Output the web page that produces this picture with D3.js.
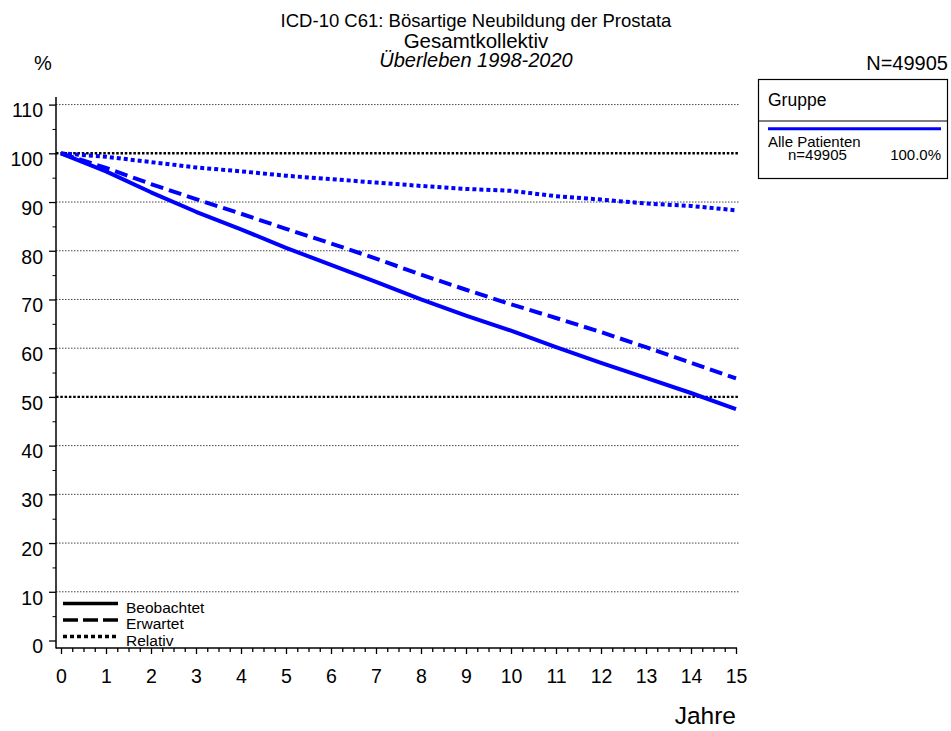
<!DOCTYPE html>
<html>
<head>
<meta charset="utf-8">
<script src="https://cdn.jsdelivr.net/npm/d3@7"></script>
<style>
  html, body { margin: 0; padding: 0; background: #fff; }
  svg { display: block; font-family: "Liberation Sans", Arial, sans-serif; }
</style>
</head>
<body>
<svg id="chart" width="951" height="731"></svg>
<script>
// ---- data ----
const years = [0,1,2,3,4,5,6,7,8,9,10,11,12,13,14,15];
const observed = [100,96.3,92.0,88.0,84.4,80.6,77.1,73.6,70.0,66.7,63.6,60.2,57.0,53.9,50.8,47.5];
const expected = [100,97.0,93.7,90.6,87.6,84.5,81.5,78.4,75.1,72.0,69.0,66.2,63.3,60.2,57.0,53.8];
const relative = [100,99.3,98.2,97.1,96.3,95.4,94.7,94.0,93.3,92.7,92.3,91.2,90.5,89.7,89.2,88.3];
const yMajorTicks = [0,10,20,30,40,50,60,70,80,90,100,110];
const xMajorTicks = [0,1,2,3,4,5,6,7,8,9,10,11,12,13,14,15];
const boldGrid = [50,100];
const titleLines = ["ICD-10 C61: Bösartige Neubildung der Prostata","Gesamtkollektiv","Überleben 1998-2020"];
const legendStyles = ["Beobachtet","Erwartet","Relativ"];
const groupName = "Alle Patienten";
const groupN = "n=49905";
const groupPct = "100.0%";
const totalN = "N=49905";

const svg = d3.select("#chart");
const blue = "#0000ff";

const x = d3.scaleLinear().domain([0,15]).range([61,736]);
const y = d3.scaleLinear().domain([0,110]).range([640.5,104.6]);

// titles
const tSizes = [18.5, 20.5, 20];
const tY = [27, 47.5, 67];
titleLines.forEach((t,i) => {
  svg.append("text").attr("x",476).attr("y",tY[i]).attr("text-anchor","middle")
    .attr("font-size",tSizes[i]).attr("font-style", i===2 ? "italic" : "normal")
    .attr("fill","#000").text(t);
});
svg.append("text").attr("x",43).attr("y",70).attr("text-anchor","middle").attr("font-size",20).text("%");
svg.append("text").attr("x",948).attr("y",70).attr("text-anchor","end").attr("font-size",20).text(totalN);

// gridlines
const gridVals = yMajorTicks.filter(v => v > 0);
svg.append("g").selectAll("line").data(gridVals).join("line")
  .attr("x1",56).attr("x2",739)
  .attr("y1",d => y(d)).attr("y2",d => y(d))
  .attr("stroke", d => boldGrid.includes(d) ? "#000" : "#444")
  .attr("stroke-width", d => boldGrid.includes(d) ? 2.4 : 1)
  .attr("stroke-dasharray", d => boldGrid.includes(d) ? "2.5,1.8" : "1.5,1.5");

// y axis
const yMinor = d3.range(5,110,10);
svg.append("g").attr("transform","translate(56,0)")
  .call(d3.axisLeft(y).tickValues(yMinor).tickSize(3.5).tickFormat(""))
  .call(g => g.select(".domain").remove());
svg.append("g").attr("transform","translate(56,0)")
  .call(d3.axisLeft(y).tickValues(yMajorTicks).tickSize(7).tickPadding(6).tickFormat(d3.format("d")))
  .call(g => g.select(".domain").remove())
  .call(g => g.selectAll("text").attr("font-size",19.5).attr("font-family","Liberation Sans, Arial, sans-serif").attr("dy","0.63em").attr("fill","#000"))
  .call(g => g.selectAll("line").attr("stroke","#000").attr("stroke-width",1.3));
svg.append("line").attr("x1",56).attr("x2",56).attr("y1",97).attr("y2",648.5).attr("stroke","#000").attr("stroke-width",1.5);

// x axis
const xMinor = d3.range(0,15.01,0.25).filter(v => Math.abs(v-Math.round(v))>1e-6);
svg.append("g").attr("transform","translate(0,648)")
  .call(d3.axisBottom(x).tickValues(xMinor).tickSize(4).tickFormat(""))
  .call(g => g.select(".domain").remove())
  .call(g => g.selectAll("line").attr("stroke","#000").attr("stroke-width",1.3));
svg.append("g").attr("transform","translate(0,648)")
  .call(d3.axisBottom(x).tickValues(xMajorTicks).tickSize(6).tickPadding(15).tickFormat(d3.format("d")))
  .call(g => g.select(".domain").remove())
  .call(g => g.selectAll("text").attr("font-size",19.5).attr("font-family","Liberation Sans, Arial, sans-serif").attr("fill","#000"))
  .call(g => g.selectAll("line").attr("stroke","#000").attr("stroke-width",1.3));
svg.append("line").attr("x1",56).attr("x2",737).attr("y1",648).attr("y2",648).attr("stroke","#000").attr("stroke-width",1.5);
svg.append("text").attr("x",736).attr("y",724).attr("text-anchor","end").attr("font-size",24.5).text("Jahre");

// data lines
const line = d3.line().x((d,i) => x(years[i])).y(d => y(d));
const series = [
  {vals: observed, dash: null},
  {vals: expected, dash: "13,6"},
  {vals: relative, dash: "4,3"}
];
series.forEach(s => {
  svg.append("path").datum(s.vals).attr("d", line)
    .attr("fill","none").attr("stroke",blue).attr("stroke-width",4)
    .attr("stroke-linejoin","round")
    .attr("stroke-dasharray", s.dash);
});

// bottom-left style legend
const lgY = [603.5, 620, 636.5];
const lgDash = [null, "15,5", "4,3"];
legendStyles.forEach((t,i) => {
  svg.append("line").attr("x1",63).attr("x2",118).attr("y1",lgY[i]).attr("y2",lgY[i])
    .attr("stroke","#000").attr("stroke-width",3.5).attr("stroke-dasharray",lgDash[i]);
  svg.append("text").attr("x",126).attr("y",lgY[i]+9).attr("font-size",15.5).attr("fill","#000").text(t);
});

// group legend box
svg.append("rect").attr("x",758.5).attr("y",79.5).attr("width",189).attr("height",99)
  .attr("fill","#fff").attr("stroke","#000").attr("stroke-width",1.2);
svg.append("line").attr("x1",758.5).attr("x2",947.5).attr("y1",121).attr("y2",121).attr("stroke","#000").attr("stroke-width",1.2);
svg.append("text").attr("x",768).attr("y",106).attr("font-size",17.5).text("Gruppe");
svg.append("line").attr("x1",768).attr("x2",941).attr("y1",128.7).attr("y2",128.7).attr("stroke",blue).attr("stroke-width",3);
svg.append("text").attr("x",768).attr("y",147).attr("font-size",15).text(groupName);
svg.append("text").attr("x",788).attr("y",160).attr("font-size",15).text(groupN);
svg.append("text").attr("x",941).attr("y",160).attr("text-anchor","end").attr("font-size",15).text(groupPct);
</script>
</body>
</html>
